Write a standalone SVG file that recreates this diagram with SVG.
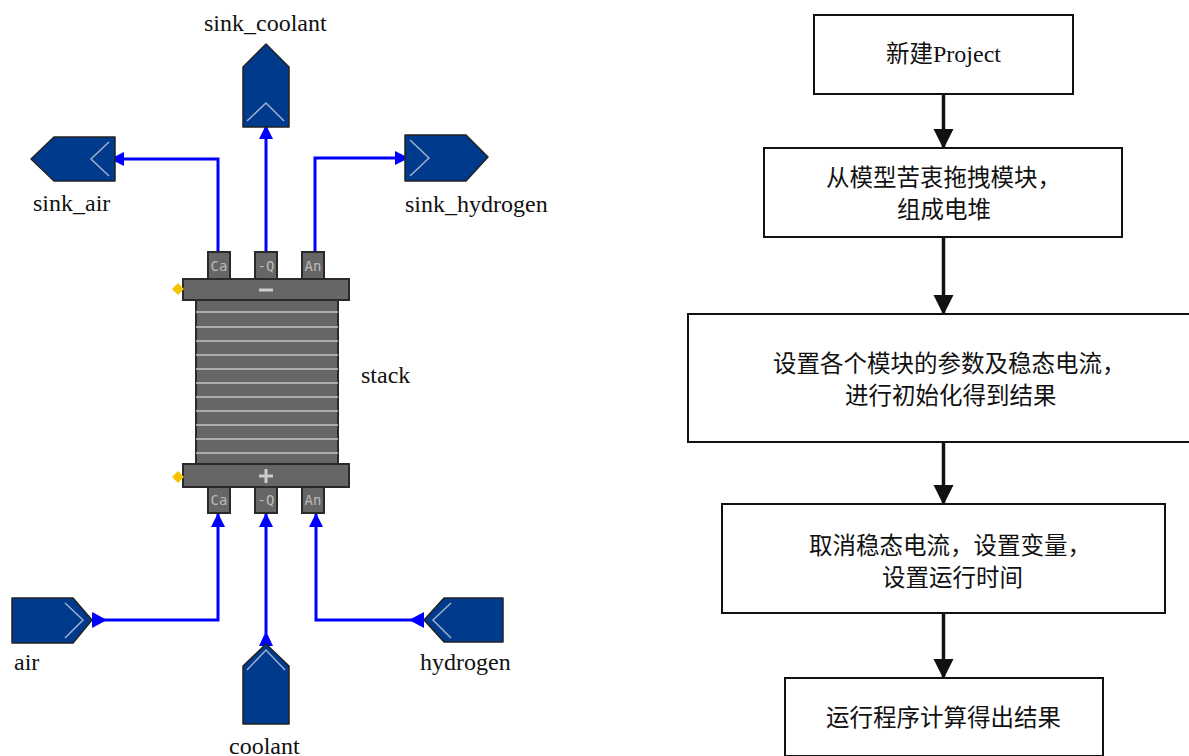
<svg xmlns="http://www.w3.org/2000/svg" width="1189" height="756" viewBox="0 0 1189 756">
<style>
.lbl{font-family:"Liberation Serif","Noto Sans CJK SC",serif;font-size:24px;fill:#111}
.box{fill:#fff;stroke:#111;stroke-width:2}
.cap{font-family:"Noto Sans CJK SC","Liberation Serif",serif;font-size:23.5px;fill:#111}
.cap .l{font-family:"Liberation Serif",serif;font-size:24px}
.blk{fill:#003a8c;stroke:#222;stroke-width:1.5;stroke-linejoin:round}
.chev{fill:none;stroke:#9fb0cc;stroke-width:1.5}
.wire{fill:none;stroke:#0000ff;stroke-width:3}
.flow{stroke:#111;stroke-width:3.5}
.gray{fill:#666;stroke:#2a2a2a;stroke-width:2}
.port{font-family:"DejaVu Sans Mono","Liberation Mono",monospace;font-size:14px;fill:#bbb;text-anchor:middle}
.plate{stroke:#c4c4c4;stroke-width:1.6}
.dia{fill:#f5c400}
</style>
<defs>
<marker id="ab" markerUnits="userSpaceOnUse" markerWidth="16" markerHeight="16" refX="13" refY="8" orient="auto"><path d="M0 1L14 8L0 15Z" fill="#0000ff"/></marker>
<marker id="fa" markerUnits="userSpaceOnUse" markerWidth="22" markerHeight="22" refX="19" refY="11" orient="auto"><path d="M0 1L20 11L0 21Z" fill="#111"/></marker>
</defs>
<g id="connectors">
<path class="wire" marker-end="url(#ab)" d="M218 252V159H111"/>
<path class="wire" marker-end="url(#ab)" d="M266 252V126"/>
<path class="wire" marker-end="url(#ab)" d="M315 252V158H408"/>
<path class="wire" d="M92 620H218V514" marker-end="url(#ab)"/>
<path class="wire" d="M266 634V514" marker-end="url(#ab)"/>
<path class="wire" d="M424 620H316V514" marker-end="url(#ab)"/>
<path d="M92 612L107 620L92 628Z" fill="#0000ff"/>
<path d="M424 612L409 620L424 628Z" fill="#0000ff"/>
<path d="M266 631L259 646H273Z" fill="#0000ff"/>
<path class="flow" marker-end="url(#fa)" d="M943.5 94V148"/>
<path class="flow" marker-end="url(#fa)" d="M943.5 237V314"/>
<path class="flow" marker-end="url(#fa)" d="M943.5 442V504"/>
<path class="flow" marker-end="url(#fa)" d="M943.5 613V678"/>
</g>
<g id="sink_coolant">
<path class="blk" d="M243 127V67L266 44L289 67V127Z"/>
<path class="chev" d="M247 121L266 103L284 121"/>
<text class="lbl" x="204" y="31">sink_coolant</text>
</g>
<g id="sink_air">
<path class="blk" d="M115 137H54L31 159L54 181H115Z"/>
<path class="chev" d="M109 142L91 159L109 176"/>
<text class="lbl" x="33" y="211">sink_air</text>
</g>
<g id="sink_hydrogen">
<path class="blk" d="M405 135H466L488 157L466 181H405Z"/>
<path class="chev" d="M410 140L429 158L410 176"/>
<text class="lbl" x="405" y="212">sink_hydrogen</text>
</g>
<g id="stack">
<rect class="gray" x="196" y="299" width="142" height="166"/>
<g class="plate">
<line x1="196" y1="312" x2="338" y2="312"/><line x1="196" y1="327" x2="338" y2="327"/>
<line x1="196" y1="341" x2="338" y2="341"/><line x1="196" y1="355" x2="338" y2="355"/>
<line x1="196" y1="369" x2="338" y2="369"/><line x1="196" y1="383" x2="338" y2="383"/>
<line x1="196" y1="397" x2="338" y2="397"/><line x1="196" y1="411" x2="338" y2="411"/>
<line x1="196" y1="425" x2="338" y2="425"/><line x1="196" y1="439" x2="338" y2="439"/>
<line x1="196" y1="453" x2="338" y2="453"/>
</g>
<rect class="gray" x="183" y="279" width="166" height="21"/>
<rect class="gray" x="183" y="464" width="166" height="23"/>
<path d="M259 290H273" stroke="#ccc" stroke-width="3"/>
<path d="M259 476H273M266 469V483" stroke="#ccc" stroke-width="3"/>
<path class="dia" d="M178 283L184 289L178 295L172 289Z"/>
<path class="dia" d="M178 471L184 477L178 483L172 477Z"/>
<rect class="gray" x="208" y="252" width="22" height="27"/>
<rect class="gray" x="255" y="252" width="22" height="27"/>
<rect class="gray" x="302" y="252" width="22" height="27"/>
<rect class="gray" x="208" y="487" width="22" height="26"/>
<rect class="gray" x="255" y="487" width="22" height="26"/>
<rect class="gray" x="302" y="487" width="22" height="26"/>
<text class="port" x="219" y="271">Ca</text><text class="port" x="266" y="271">-Q</text><text class="port" x="313" y="271">An</text>
<text class="port" x="219" y="505">Ca</text><text class="port" x="266" y="505">-Q</text><text class="port" x="313" y="505">An</text>
<text class="lbl" x="361" y="383">stack</text>
</g>
<g id="air">
<path class="blk" d="M12 598H73L92 620L73 643H12Z"/>
<path class="chev" d="M65 603L83 620L65 638"/>
<text class="lbl" x="14" y="670">air</text>
</g>
<g id="coolant">
<path class="blk" d="M243 724V666L266 644L289 666V724Z"/>
<path class="chev" d="M247 670L266 650L285 670"/>
<text class="lbl" x="229" y="754">coolant</text>
</g>
<g id="hydrogen">
<path class="blk" d="M503 598H444L424 620L444 642H503Z"/>
<path class="chev" d="M451 603L433 620L451 638"/>
<text class="lbl" x="420" y="670">hydrogen</text>
</g>
<g id="step1">
<rect class="box" x="814" y="15" width="259" height="79"/>
<text class="cap" x="886" y="62">新建<tspan class="l">Project</tspan></text>
</g>
<g id="step2">
<rect class="box" x="764" y="148" width="358" height="89"/>
<text class="cap" x="826" y="186">从模型苦衷拖拽模块，</text>
<text class="cap" x="897" y="218">组成电堆</text>
</g>
<g id="step3">
<rect class="box" x="688" y="314" width="502" height="128"/>
<text class="cap" x="773" y="372">设置各个模块的参数及稳态电流，</text>
<text class="cap" x="845" y="404">进行初始化得到结果</text>
</g>
<g id="step4">
<rect class="box" x="722" y="504" width="443" height="109"/>
<text class="cap" x="809" y="554">取消稳态电流，设置变量，</text>
<text class="cap" x="882" y="586">设置运行时间</text>
</g>
<g id="step5">
<rect class="box" x="785" y="678" width="318" height="78"/>
<text class="cap" x="826" y="726">运行程序计算得出结果</text>
</g>
</svg>
